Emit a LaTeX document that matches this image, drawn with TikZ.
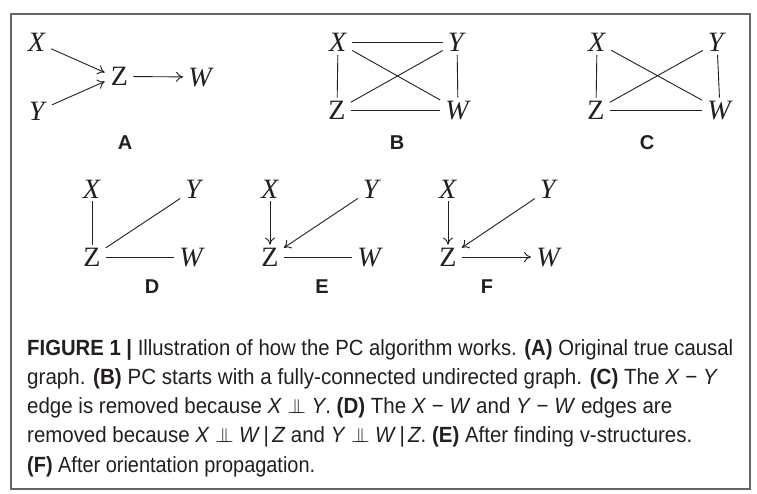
\documentclass[tikz,border=0pt]{standalone}
\usepackage{fontspec}
\usepackage{graphicx}
\usetikzlibrary{calc,arrows.meta}
\newfontfamily\gfont{Liberation Serif}
\newfontfamily\capfont{Liberation Sans}
\definecolor{ink}{HTML}{231F20}
\newcommand\indepsym{\ensuremath{\perp\mkern-11mu\perp}}
\newcommand\capline[2]{\resizebox{#1}{\height}{\capfont\fontsize{22}{26}\selectfont #2}}
\begin{document}
\begin{tikzpicture}[x=1pt,y=-1pt,
  v/.style={font=\gfont\fontsize{28}{28}\selectfont, text=ink, inner xsep=5pt, inner ysep=3pt, text height=18.5pt, text depth=0pt},
  lbl/.style={font=\capfont\bfseries\fontsize{20}{20}\selectfont, text=ink, inner sep=0pt},
  ed/.style={draw=ink, line width=0.9pt},
  ar/.style={ed, -{To[length=7pt,width=10pt]}},
  capn/.style={anchor=base west, inner sep=0pt, text=ink}]
\useasboundingbox (0,0) rectangle (757,494);
\fill[white] (0,0) rectangle (757,494);
\draw[line width=1.1pt, draw=black!60] (11,14) rectangle (750,489);

% A
\node[v] (ax) at (37,42.5) {\textit{X}};
\node[v] (ay) at (38,111) {\textit{Y}};
\node[v] (az) at (119.5,76.5) {Z};
\node[v] (aw) at (201,77) {\textit{W}};
\node[lbl] (la) at (125,143) {A};
\draw[ar] (ax) -- ($(az.west)+(-1,-4)$);
\draw[ar] (ay) -- ($(az.west)+(-1,5)$);
\draw[ar] (az) -- (aw);

% B
\node[v] (bx) at (338,42.5) {\textit{X}};
\node[v] (by) at (457,42.5) {\textit{Y}};
\node[v] (bz) at (337,110) {Z};
\node[v] (bw) at (458,110) {\textit{W}};
\node[lbl] (lb) at (397,143) {B};
\draw[ed] (bx) -- (by);
\draw[ed] (bx) -- (bz);
\draw[ed] (by) -- (bw);
\draw[ed] (bz) -- (bw);
\draw[ed] (bx) -- (bw);
\draw[ed] (bz) -- (by);

% C
\node[v] (cx) at (597,42.5) {\textit{X}};
\node[v] (cy) at (717,42.5) {\textit{Y}};
\node[v] (cz) at (596,110) {Z};
\node[v] (cw) at (720,110) {\textit{W}};
\node[lbl] (lc) at (647,143) {C};
\draw[ed] (cx) -- (cz);
\draw[ed] (cy) -- (cw);
\draw[ed] (cz) -- (cw);
\draw[ed] (cx) -- (cw);
\draw[ed] (cz) -- (cy);

% D
\node[v] (dx) at (92,189) {\textit{X}};
\node[v] (dy) at (194.5,189) {\textit{Y}};
\node[v] (dz) at (92,257) {Z};
\node[v] (dw) at (192,257) {\textit{W}};
\node[lbl] (ld) at (152,287) {D};
\draw[ed] (dx) -- (dz);
\draw[ed] (dz) -- (dy);
\draw[ed] (dz) -- (dw);

% E
\node[v] (ex) at (270,189) {\textit{X}};
\node[v] (ey) at (372,189) {\textit{Y}};
\node[v] (ez) at (270,257) {Z};
\node[v] (ew) at (370,257) {\textit{W}};
\node[lbl] (le) at (322,287) {E};
\draw[ar] (ex) -- (ez);
\draw[ar] (ey) -- (ez);
\draw[ed] (ez) -- (ew);

% F
\node[v] (fx) at (448,189) {\textit{X}};
\node[v] (fy) at (549,189) {\textit{Y}};
\node[v] (fz) at (448,257) {Z};
\node[v] (fw) at (549,257) {\textit{W}};
\node[lbl] (lf) at (487,287) {F};
\draw[ar] (fx) -- (fz);
\draw[ar] (fy) -- (fz);
\draw[ar] (fz) -- (fw);

% caption
\node[capn] (c1) at (27,355) {\capline{706pt}{\textbf{FIGURE 1 |} Illustration of how the PC algorithm works. \textbf{(A)} Original true causal}};
\node[capn] (c2) at (27,384.3) {\capline{691pt}{graph. \textbf{(B)} PC starts with a fully-connected undirected graph. \textbf{(C)} The \textit{X} − \textit{Y}}};
\node[capn] (c3) at (27,413.6) {\capline{645pt}{edge is removed because \textit{X} \indepsym\ \textit{Y}. \textbf{(D)} The \textit{X} − \textit{W} and \textit{Y} − \textit{W} edges are}};
\node[capn] (c4) at (27,442.9) {\capline{665pt}{removed because \textit{X} \indepsym\ \textit{W}\,|\,\textit{Z} and \textit{Y} \indepsym\ \textit{W}\,|\,\textit{Z}. \textbf{(E)} After finding v-structures.}};
\node[capn] (c5) at (27,472.2) {\capline{288pt}{\textbf{(F)} After orientation propagation.}};
\end{tikzpicture}
\end{document}
